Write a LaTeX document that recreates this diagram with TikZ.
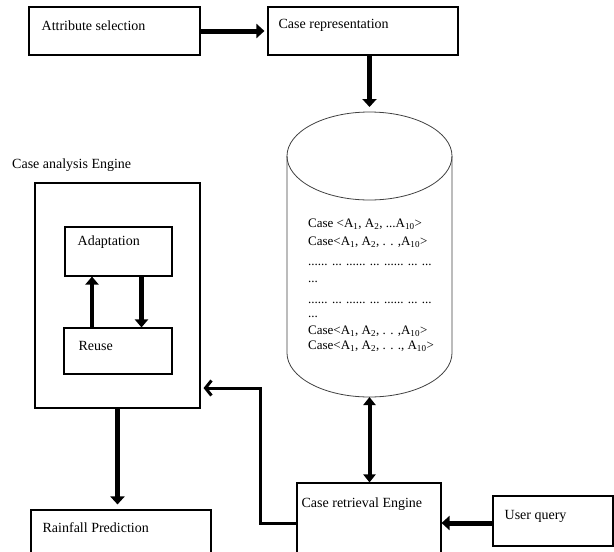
\documentclass[tikz,border=0pt]{standalone}
\usepackage{fontspec}
\setmainfont{Liberation Serif}
\usetikzlibrary{arrows.meta}

\tikzset{
    box/.style = {draw, line width=1.1pt, inner sep=0pt},
    lbl/.style = {anchor=west, inner sep=0pt, xshift=12pt, yshift=-19pt},
    bigarrow/.style = {line width=5pt, -{Triangle[length=8pt, width=14pt]}},
    midarrow/.style = {line width=4.5pt, -{Triangle[length=8pt, width=13pt]}},
    dblarrow/.style = {line width=4pt, {Triangle[length=8pt, width=12pt]}-{Triangle[length=8pt, width=12pt]}},
    elbow/.style = {line width=3pt, -{Straight Barb[length=6pt, width=15pt]}},
    dbline/.style = {line width=0.8pt, black!75},
    caseline/.style = {anchor=west, inner sep=0pt, font=\fontsize{13pt}{15pt}\selectfont}
}

\begin{document}
\begin{tikzpicture}[x=1pt, y=-1pt, font=\fontsize{14pt}{16pt}\selectfont]
            \useasboundingbox (0,0) rectangle (614,552);

            {
                \node[box, minimum width=171pt, minimum height=48pt, label={[lbl, xshift=1pt]north west:Attribute selection}] (attr) at (114.5,31) {};
                \node[box, minimum width=190pt, minimum height=48pt, label={[lbl, xshift=-1pt]north west:Case representation}] (caserep) at (363,31) {};

                \node[anchor=west, inner sep=0pt] (analysistitle) at (12,165) {Case analysis Engine};
                \node[box, minimum width=165pt, minimum height=225pt] (analysis) at (117.5,295.5) {};
                \node[box, minimum width=107pt, minimum height=49pt, label={[lbl, xshift=1pt, yshift=3pt]north west:Adaptation}] (adapt) at (118.5,251.5) {};
                \node[box, minimum width=108pt, minimum height=46pt, label={[lbl, xshift=3pt]north west:Reuse}] (reuse) at (118,351) {};

                \node[box, minimum width=180pt, minimum height=60pt, label={[lbl, yshift=1pt]north west:Rainfall Prediction}] (rainfall) at (121,540) {};
                \node[box, minimum width=144pt, minimum height=80pt, label={[lbl, xshift=-7pt, yshift=-3pt]north west:Case retrieval Engine}] (retrieval) at (369,523) {};
                \node[box, minimum width=120pt, minimum height=50pt, label={[lbl, yshift=-2pt]north west:User query}] (query) at (553,521) {};
            }

            % case base
            \coordinate (dbtop) at (369.5,112);
            \coordinate (dbbot) at (369.5,397);
            \draw[dbline] (369.5,156) ellipse [x radius=82.5pt, y radius=44pt];
            \draw[dbline] (287,156) -- (287,353) arc[start angle=180, end angle=360, x radius=82.5pt, y radius=44pt] -- (452,156);

            \node[caseline] (case1) at (308,224) {Case <A\textsubscript{1}, A\textsubscript{2}, ...A\textsubscript{10}>};
            \node[caseline] (case2) at (308,242) {Case<A\textsubscript{1}, A\textsubscript{2}, . . ,A\textsubscript{10}>};
            \node[caseline] (dots1) at (308,265) {...... ... ...... ... ...... ... ...};
            \node[caseline] (dots2) at (308,282) {...};
            \node[caseline] (dots3) at (308,303) {...... ... ...... ... ...... ... ...};
            \node[caseline] (dots4) at (308,317) {...};
            \node[caseline] (case3) at (308,331) {Case<A\textsubscript{1}, A\textsubscript{2}, . . ,A\textsubscript{10}>};
            \node[caseline] (case4) at (308,346) {Case<A\textsubscript{1}, A\textsubscript{2}, . . ., A\textsubscript{10}>};

            \coordinate (bend) at (260,388);

            \draw (attr) edge[bigarrow, shorten >=3pt] (caserep);
            \draw (caserep.south -| dbtop) edge[bigarrow, shorten >=5pt] (dbtop);
            \draw (analysis.south) edge[bigarrow, shorten >=5pt] (analysis.south |- rainfall.north);
            \draw ([xshift=-26pt]reuse.north) edge[midarrow] ([xshift=-26pt]reuse.north |- adapt.south);
            \draw ([xshift=23pt]adapt.south) edge[midarrow] ([xshift=23pt]adapt.south |- reuse.north);
            \draw (dbbot) edge[dblarrow] (dbbot |- retrieval.north);
            \draw (query.west |- retrieval.center) edge[bigarrow] (retrieval.east);
            \draw[elbow, shorten >=3pt] (retrieval.west) -| (bend) -- (bend -| analysis.east);

        \end{tikzpicture}
\end{document}
